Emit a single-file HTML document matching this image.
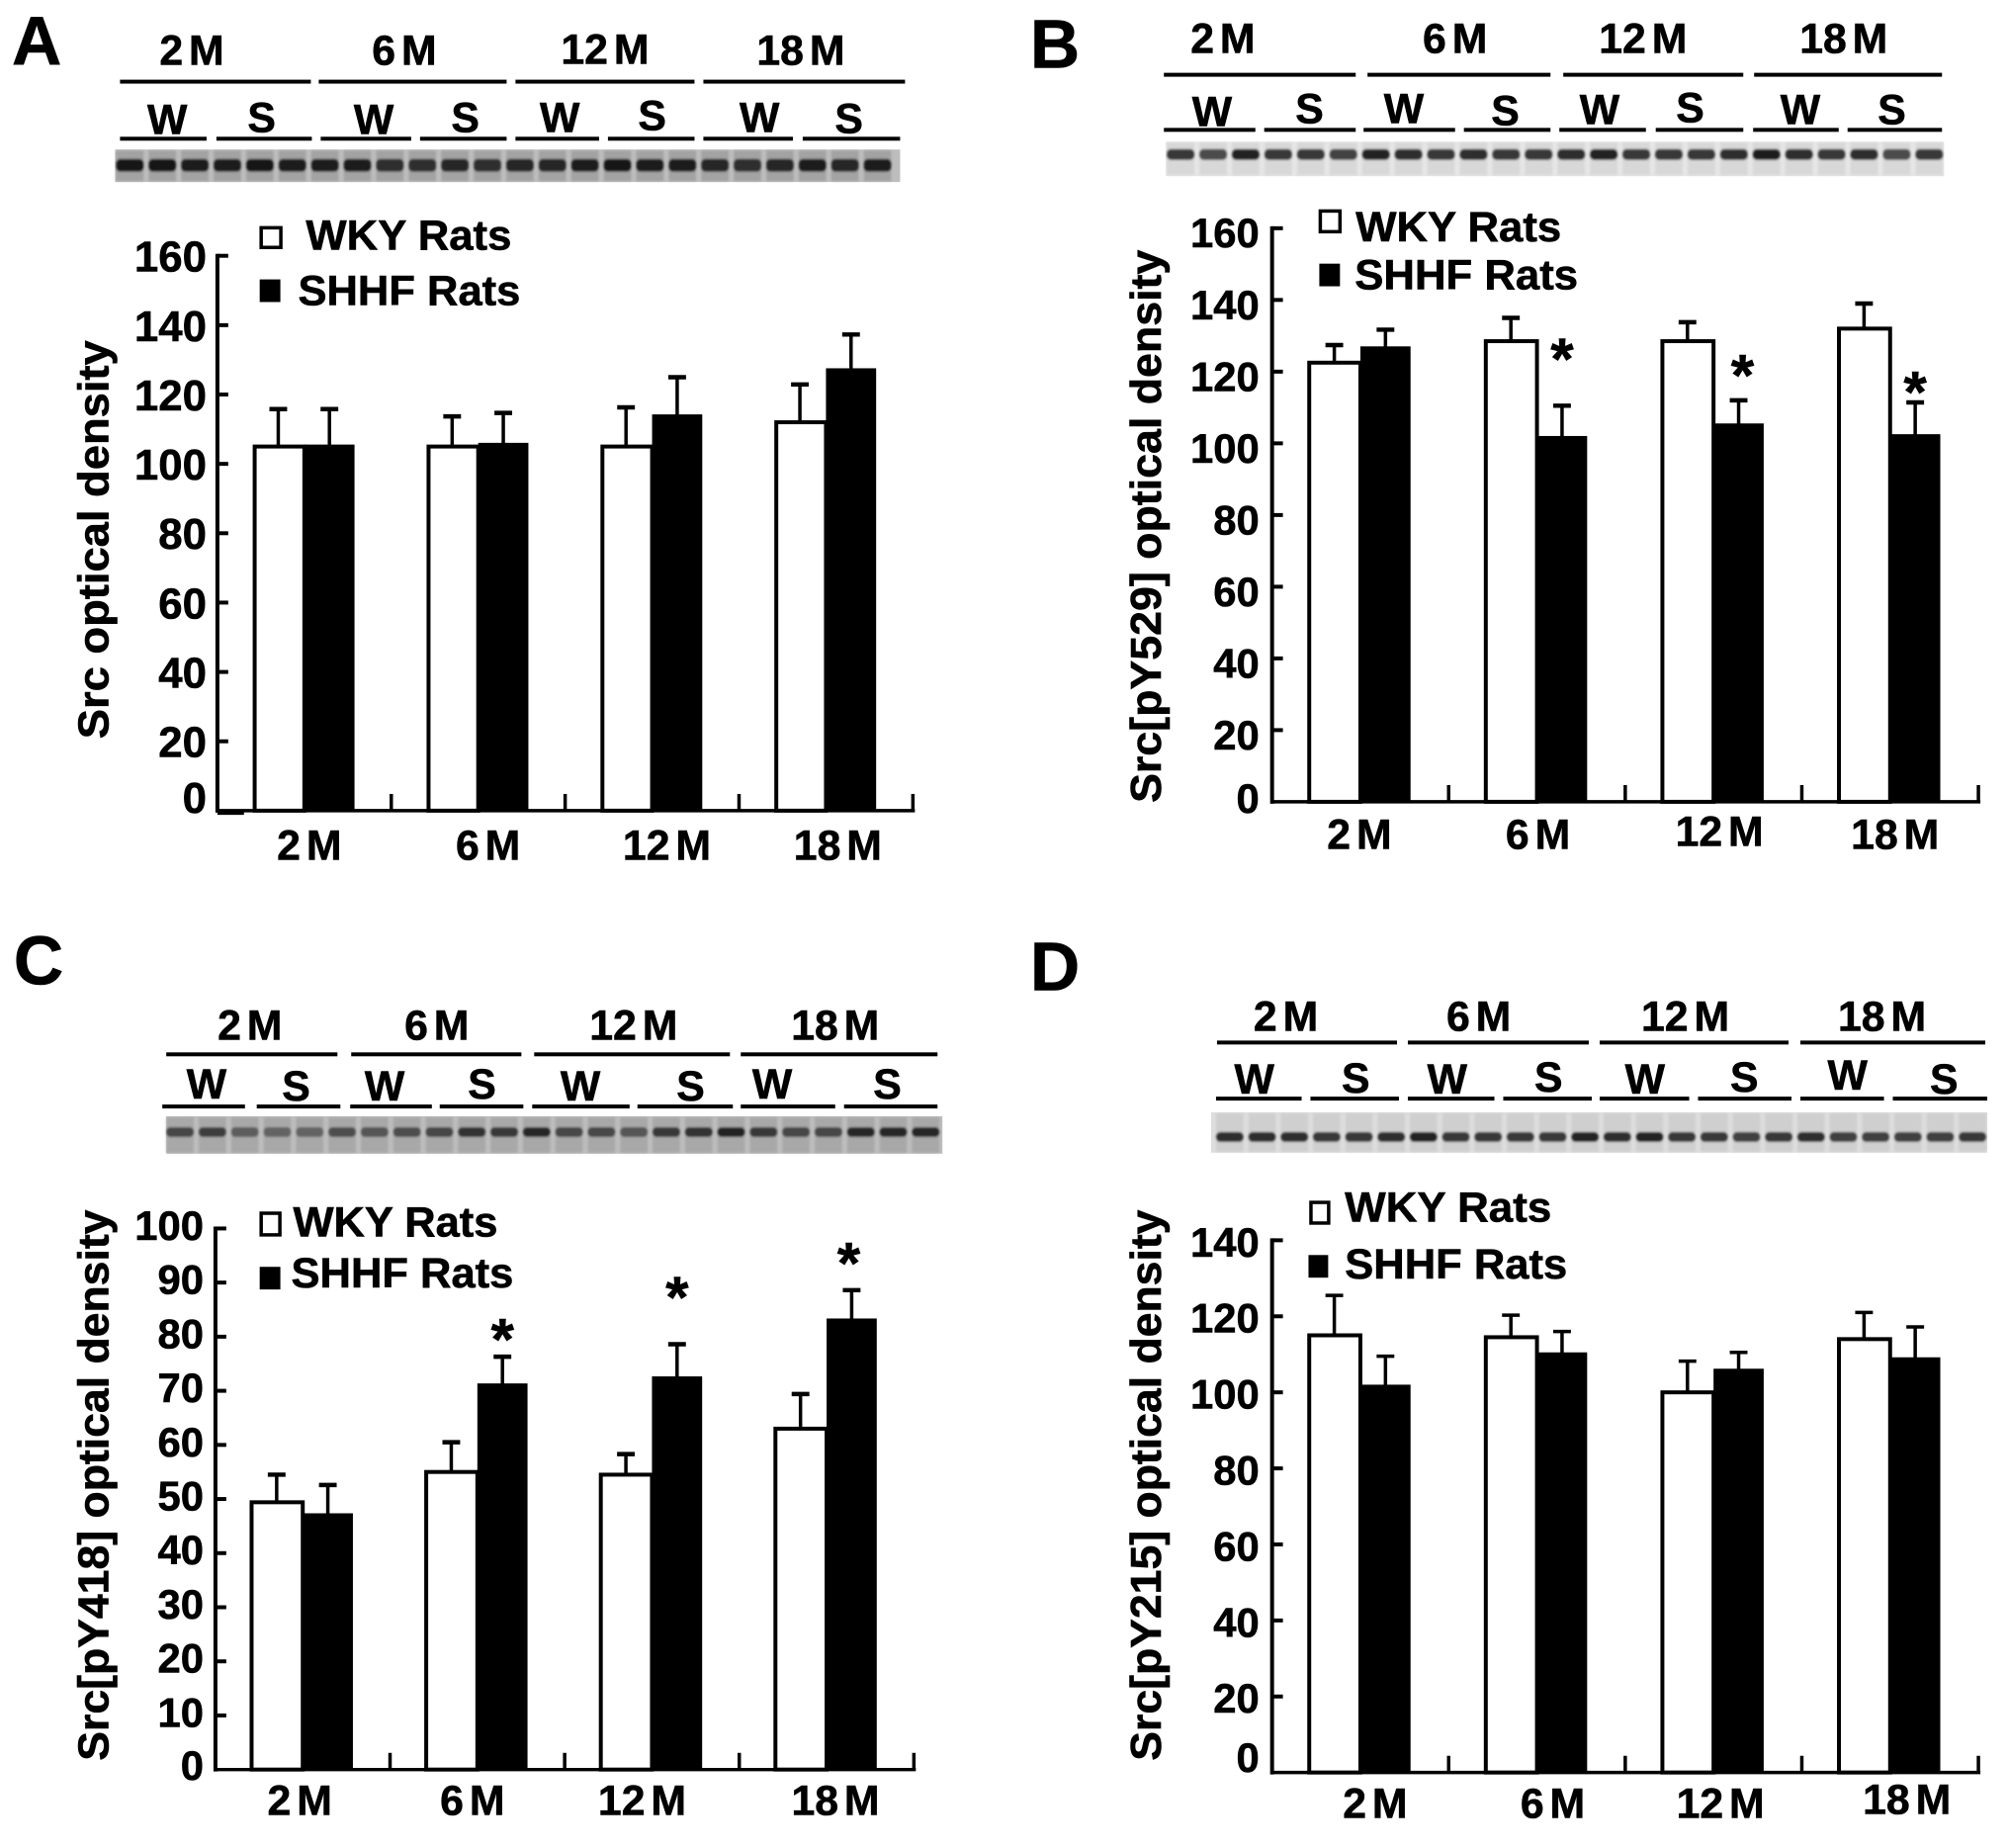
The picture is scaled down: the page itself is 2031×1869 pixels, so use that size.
<!DOCTYPE html>
<html lang="en">
<head>
<meta charset="utf-8">
<title>Src optical density in WKY and SHHF rats</title>
<style>
html,body{margin:0;padding:0;background:#fff;}
svg{display:block;}
text{font-family:"Liberation Sans",Arial,sans-serif;font-weight:bold;fill:#000;stroke:#000;stroke-width:.6px;}
.letter{font-size:70px;}
.m{font-size:43px;word-spacing:-6px;text-anchor:middle;}
.ws{font-size:43px;text-anchor:middle;}
.leg{font-size:43px;}
.ttl{font-size:44px;}
</style>
</head>
<body>
<svg id="figure" xmlns="http://www.w3.org/2000/svg" width="2031" height="1869" viewBox="0 0 2031 1869">
<defs><filter id="soft" x="-5%" y="-30%" width="110%" height="160%"><feGaussianBlur stdDeviation="1.1"/></filter></defs>
<rect width="2031" height="1869" fill="#fff"/>

<g id="quad-a" transform="scale(.995)">
<g>
<text class="letter" x="12" y="66">A</text>
<text class="m" x="195" y="66">2 M</text>
<text class="m" x="411" y="66">6 M</text>
<text class="m" x="615" y="65">12 M</text>
<text class="m" x="814" y="66">18 M</text>
<rect x="122" y="81" width="194" height="4"/>
<rect x="324" y="81" width="191" height="4"/>
<rect x="524" y="81" width="182" height="4"/>
<rect x="715" y="81" width="205" height="4"/>
<text class="ws" x="170" y="136">W</text>
<text class="ws" x="266" y="134">S</text>
<text class="ws" x="380" y="136">W</text>
<text class="ws" x="473" y="134">S</text>
<text class="ws" x="569" y="134">W</text>
<text class="ws" x="663" y="132">S</text>
<text class="ws" x="772" y="134">W</text>
<text class="ws" x="863" y="135">S</text>
<rect x="122" y="139" width="88" height="4"/>
<rect x="220" y="139" width="97" height="4"/>
<rect x="326" y="139" width="92" height="4"/>
<rect x="427" y="139" width="88" height="4"/>
<rect x="524" y="139" width="85" height="4"/>
<rect x="618" y="139" width="88" height="4"/>
<rect x="715" y="139" width="91" height="4"/>
<rect x="816" y="139" width="99" height="4"/>
</g>
<g>
<rect x="265.5" y="231.5" width="20" height="20" fill="#fff" stroke="#000" stroke-width="3.5"/>
<text class="leg" x="311" y="254" textLength="209" lengthAdjust="spacingAndGlyphs">WKY Rats</text>
<rect x="264" y="284" width="21" height="23"/>
<text class="leg" x="303" y="310" textLength="226" lengthAdjust="spacingAndGlyphs">SHHF Rats</text>
</g>
<text class="ttl" transform="translate(110,751) rotate(-90)" textLength="405" lengthAdjust="spacingAndGlyphs">Src optical density</text>
</g>

<g id="quad-b" transform="translate(1020,0) scale(.995) translate(-1020,0)">
<g>
<text class="letter" x="1042" y="69">B</text>
<text class="m" x="1238" y="54">2 M</text>
<text class="m" x="1474" y="54">6 M</text>
<text class="m" x="1665" y="54">12 M</text>
<text class="m" x="1869" y="54">18 M</text>
<rect x="1178" y="74" width="195" height="4"/>
<rect x="1385" y="74" width="186" height="4"/>
<rect x="1584" y="74" width="183" height="4"/>
<rect x="1778" y="74" width="191" height="4"/>
<text class="ws" x="1227" y="128">W</text>
<text class="ws" x="1326" y="125">S</text>
<text class="ws" x="1422" y="125">W</text>
<text class="ws" x="1525" y="127">S</text>
<text class="ws" x="1621" y="126">W</text>
<text class="ws" x="1713" y="124">S</text>
<text class="ws" x="1825" y="126">W</text>
<text class="ws" x="1918" y="126">S</text>
<rect x="1178" y="130" width="93" height="4"/>
<rect x="1280" y="130" width="93" height="4"/>
<rect x="1381" y="130" width="93" height="4"/>
<rect x="1483" y="130" width="88" height="4"/>
<rect x="1580" y="130" width="88" height="4"/>
<rect x="1678" y="130" width="89" height="4"/>
<rect x="1777" y="130" width="87" height="4"/>
<rect x="1873" y="130" width="96" height="4"/>
</g>
<g>
<rect x="1337" y="214.5" width="20" height="21" fill="#fff" stroke="#000" stroke-width="3.5"/>
<text class="leg" x="1373" y="245" textLength="209" lengthAdjust="spacingAndGlyphs">WKY Rats</text>
<rect x="1336" y="268" width="21" height="23"/>
<text class="leg" x="1372" y="294" textLength="227" lengthAdjust="spacingAndGlyphs">SHHF Rats</text>
</g>
<text class="ttl" transform="translate(1175,816) rotate(-90)" textLength="562" lengthAdjust="spacingAndGlyphs">Src[pY529] optical density</text>
</g>

<g id="quad-c" transform="translate(0,930) scale(.995) translate(0,-930)">
<g>
<text class="letter" x="14" y="996">C</text>
<text class="m" x="254" y="1052">2 M</text>
<text class="m" x="444" y="1052">6 M</text>
<text class="m" x="644" y="1052">12 M</text>
<text class="m" x="849" y="1052">18 M</text>
<rect x="169" y="1065" width="174" height="4"/>
<rect x="357" y="1065" width="173" height="4"/>
<rect x="543" y="1065" width="199" height="4"/>
<rect x="753" y="1065" width="200" height="4"/>
<text class="ws" x="210" y="1112">W</text>
<text class="ws" x="301" y="1114">S</text>
<text class="ws" x="391" y="1114">W</text>
<text class="ws" x="490" y="1112">S</text>
<text class="ws" x="590" y="1114">W</text>
<text class="ws" x="702" y="1114">S</text>
<text class="ws" x="785" y="1112">W</text>
<text class="ws" x="902" y="1112">S</text>
<rect x="165" y="1118" width="84" height="4"/>
<rect x="261" y="1118" width="85" height="4"/>
<rect x="356" y="1118" width="83" height="4"/>
<rect x="447" y="1118" width="85" height="4"/>
<rect x="541" y="1118" width="99" height="4"/>
<rect x="648" y="1118" width="97" height="4"/>
<rect x="753" y="1118" width="96" height="4"/>
<rect x="858" y="1118" width="95" height="4"/>
</g>
<g>
<rect x="265.5" y="1228.5" width="19" height="22" fill="#fff" stroke="#000" stroke-width="3.5"/>
<text class="leg" x="298" y="1252" textLength="208" lengthAdjust="spacingAndGlyphs">WKY Rats</text>
<rect x="264" y="1283" width="21" height="23"/>
<text class="leg" x="296" y="1304" textLength="226" lengthAdjust="spacingAndGlyphs">SHHF Rats</text>
</g>
<text class="ttl" transform="translate(110,1785) rotate(-90)" textLength="560" lengthAdjust="spacingAndGlyphs">Src[pY418] optical density</text>
</g>

<g id="quad-d" transform="translate(1020,930) scale(.995) translate(-1020,-930)">
<g>
<text class="letter" x="1042" y="1002">D</text>
<text class="m" x="1302" y="1043">2 M</text>
<text class="m" x="1498" y="1043">6 M</text>
<text class="m" x="1708" y="1043">12 M</text>
<text class="m" x="1908" y="1043">18 M</text>
<rect x="1232" y="1053" width="183" height="4"/>
<rect x="1426" y="1053" width="184" height="4"/>
<rect x="1621" y="1053" width="192" height="4"/>
<rect x="1825" y="1053" width="188" height="4"/>
<text class="ws" x="1270" y="1107">W</text>
<text class="ws" x="1373" y="1106">S</text>
<text class="ws" x="1466" y="1107">W</text>
<text class="ws" x="1569" y="1105">S</text>
<text class="ws" x="1667" y="1107">W</text>
<text class="ws" x="1768" y="1105">S</text>
<text class="ws" x="1873" y="1103">W</text>
<text class="ws" x="1971" y="1107">S</text>
<rect x="1231" y="1110" width="87" height="4"/>
<rect x="1327" y="1110" width="90" height="4"/>
<rect x="1426" y="1110" width="88" height="4"/>
<rect x="1523" y="1110" width="90" height="4"/>
<rect x="1621" y="1110" width="91" height="4"/>
<rect x="1721" y="1110" width="95" height="4"/>
<rect x="1825" y="1110" width="85" height="4"/>
<rect x="1919" y="1110" width="96" height="4"/>
</g>
<g>
<rect x="1327.5" y="1217.5" width="18" height="21" fill="#fff" stroke="#000" stroke-width="3.5"/>
<text class="leg" x="1362" y="1237" textLength="210" lengthAdjust="spacingAndGlyphs">WKY Rats</text>
<rect x="1325" y="1271" width="20" height="23"/>
<text class="leg" x="1362" y="1295" textLength="226" lengthAdjust="spacingAndGlyphs">SHHF Rats</text>
</g>
<text class="ttl" transform="translate(1175,1785) rotate(-90)" textLength="560" lengthAdjust="spacingAndGlyphs">Src[pY215] optical density</text>
</g>
</svg>

<script>
const categories = ['2 M', '6 M', '12 M', '18 M'];

const ticksA = [0, 20, 40, 60, 80, 100, 120, 140, 160];
const wkyA = [105, 105, 105, 112];
const shhfA = [105, 105.5, 113.7, 127];
const wkyErrA = [10.8, 8.7, 11.3, 10.9];
const shhfErrA = [10.8, 9.2, 11.3, 10.3];
const sigA = [0, 0, 0, 0];

const ticksB = [0, 20, 40, 60, 80, 100, 120, 140, 160];
const wkyB = [122.5, 128.5, 128.5, 132];
const shhfB = [126.5, 101.5, 105, 102];
const wkyErrB = [4.9, 6.5, 5.3, 7];
const shhfErrB = [5.2, 9, 7, 9.4];
const sigB = [0, 1, 1, 1];

const ticksC = [0, 10, 20, 30, 40, 50, 60, 70, 80, 90, 100];
const wkyC = [49.4, 55, 54.5, 63];
const shhfC = [47, 71, 72.3, 83];
const wkyErrC = [5.1, 5.5, 3.8, 6.4];
const shhfErrC = [5.6, 5.3, 6.3, 5.6];
const sigC = [0, 1, 1, 1];

const ticksD = [0, 20, 40, 60, 80, 100, 120, 140];
const wkyD = [115, 114.5, 100, 114];
const shhfD = [101.5, 110, 105.7, 108.7];
const wkyErrD = [10.5, 5.8, 8.2, 7];
const shhfErrD = [8, 6, 4.8, 8.5];
const sigD = [0, 0, 0, 0];

const bandStrengthA = [.95,.95,.9,.9,.95,.9,.9,.9,.8,.8,.85,.8,.85,.85,.9,.95,.9,.9,.85,.8,.85,.9,.85,.9];
const bandStrengthB = [.8,.7,.9,.8,.8,.75,.9,.85,.8,.85,.8,.8,.85,.9,.8,.8,.8,.85,.95,.85,.8,.85,.7,.8];
const bandStrengthC = [.65,.7,.5,.45,.45,.6,.55,.6,.65,.8,.75,.85,.65,.65,.55,.75,.8,.9,.75,.65,.65,.85,.85,.85];
const bandStrengthD = [.85,.85,.85,.8,.8,.85,.9,.8,.8,.8,.8,.9,.85,.9,.8,.8,.75,.8,.85,.75,.75,.75,.75,.8];

const NS = 'http://www.w3.org/2000/svg';

function mk(parent, tag, attrs, text) {
  const node = document.createElementNS(NS, tag);
  for (const key in attrs) node.setAttribute(key, attrs[key]);
  if (text !== undefined) node.textContent = text;
  parent.appendChild(node);
  return node;
}

function drawBlot(p) {
  const g = mk(document.getElementById('quad-' + p.id), 'g', {});
  
  
  const bg = mk(g, 'rect', {x: p.blot.x, y: p.blot.y, width: p.blot.w, height: p.blot.h, fill: p.blot.bg});
  
  
  const n = p.bands.length;
  const step = (p.blot.last - p.blot.first) / (n - 1);
  const bandsGroup = mk(g, 'g', {filter: 'url(#soft)'});
  p.bands.forEach(function (s, i) {
    const cx = p.blot.first + i * step;
    const lane = mk(bandsGroup, 'rect', {x: cx - step * 0.42, y: p.blot.y + 1, width: step * 0.84, height: p.blot.h - 2, fill: p.blot.lane});
    
    
    const band = mk(bandsGroup, 'rect', {x: cx - step * 0.42, y: p.blot.band - p.blot.t / 2, width: step * 0.84, height: p.blot.t, rx: 4, fill: '#111', opacity: s});
    
    
  });
}

function drawPanel(p) {
  const yScale = function (v) { return p.y0 - v / p.max * (p.y0 - p.yTop); };
  const band = (p.x1 - p.x0) / categories.length;
  const xCenter = function (i) { return p.x0 + band * (i + 0.5); };
  const g = mk(document.getElementById('quad-' + p.id), 'g', {});
  
  

  categories.forEach(function (cat, i) {
    const c = xCenter(i);
    const topW = yScale(p.wky[i]);
    const topS = yScale(p.shhf[i]);
    const xW = c - p.barW / 2 - 1;
    const xS = c + p.barW / 2;

    const errW = mk(g, 'line', {x1: xW, x2: xW, y1: topW, y2: yScale(p.wky[i] + p.wkyErr[i]), stroke: '#000', 'stroke-width': 3.5});
    
    
    const capW = mk(g, 'line', {x1: xW - 9, x2: xW + 9, y1: yScale(p.wky[i] + p.wkyErr[i]), y2: yScale(p.wky[i] + p.wkyErr[i]), stroke: '#000', 'stroke-width': p.cap});
    
    
    const errS = mk(g, 'line', {x1: xS, x2: xS, y1: topS, y2: yScale(p.shhf[i] + p.shhfErr[i]), stroke: '#000', 'stroke-width': 3.5});
    
    
    const capS = mk(g, 'line', {x1: xS - 9, x2: xS + 9, y1: yScale(p.shhf[i] + p.shhfErr[i]), y2: yScale(p.shhf[i] + p.shhfErr[i]), stroke: '#000', 'stroke-width': p.cap});
    
    

    const barW = mk(g, 'rect', {x: c - p.barW - p.whiteExtra + 2, y: topW, width: p.barW + p.whiteExtra - 2, height: p.y0 - topW, fill: '#fff', stroke: '#000', 'stroke-width': 4});
    
    
    const barS = mk(g, 'rect', {x: c, y: topS - 2, width: p.barW, height: p.y0 - topS + 2, fill: '#000'});
    
    

    if (p.sig[i]) {
      const star = mk(g, 'text', {x: xS + p.starDx[i], y: yScale(p.shhf[i] + p.shhfErr[i]) - p.starLift[i] + 33, 'text-anchor': 'middle', 'font-size': 60}, '*');
      
      
    }

    const label = mk(g, 'text', {x: c + p.xLabelDx[i], y: p.xLabelY + p.xLabelDy[i], 'class': 'm'}, cat);
    
    

    const tick = mk(g, 'line', {x1: p.x0 + band * (i + 1), x2: p.x0 + band * (i + 1), y1: p.y0, y2: p.y0 - 17, stroke: '#000', 'stroke-width': 3.5});
    
    
  });

  const yAxis = mk(g, 'line', {x1: p.x0, x2: p.x0, y1: p.yTop - 2, y2: p.y0 + 2, stroke: '#000', 'stroke-width': 4});
  
  
  const xAxis = mk(g, 'line', {x1: p.x0, x2: p.x1 + 2, y1: p.y0, y2: p.y0, stroke: '#000', 'stroke-width': 3.5});
  
  
  if (p.id === 'a') {
    const step = mk(g, 'line', {x1: p.x0, x2: p.x0 + 27, y1: p.y0 + 2.5, y2: p.y0 + 2.5, stroke: '#000', 'stroke-width': 3.5});
    
    
  }

  p.ticks.forEach(function (t) {
    const y = yScale(t);
    if (t !== 0) {
      const tick = mk(g, 'line', {x1: p.x0, x2: p.x0 + 11, y1: y, y2: y, stroke: '#000', 'stroke-width': 4});
      
      
    }
    const label = mk(g, 'text', {x: p.labelX, y: y + p.labelDy - (t === 0 ? p.zeroLift : 0), 'text-anchor': 'end', 'font-size': p.labelSize}, String(t));
    
    
  });
}

const panels = [
  {id: 'a', x0: 221, x1: 928, y0: 824, yTop: 260, max: 160, barW: 51, whiteExtra: 1.5, cap: 4.5, labelX: 210, labelDy: 16, zeroLift: 14, labelSize: 44,
   ticks: ticksA, wky: wkyA, shhf: shhfA, wkyErr: wkyErrA, shhfErr: shhfErrA, sig: sigA, starLift: [0, 0, 0, 0], starDx: [0, 0, 0, 0],
   xLabelDx: [5, 10, 15, 12], xLabelDy: [0, 0, 0, 0], xLabelY: 874, bands: bandStrengthA,
   blot: {x: 117, y: 152, w: 798, h: 33, first: 132, last: 892, band: 168, t: 13, bg: '#bdbdbd', lane: '#a3a3a3'}},
  {id: 'b', x0: 1288, x1: 2006, y0: 815, yTop: 232, max: 160, barW: 51, whiteExtra: 3, cap: 4.5, labelX: 1275, labelDy: 19.5, zeroLift: 8.5, labelSize: 42,
   ticks: ticksB, wky: wkyB, shhf: shhfB, wkyErr: wkyErrB, shhfErr: shhfErrB, sig: sigB, starLift: [0, 60, 38, 23], starDx: [0, 0, 4, 0],
   xLabelDx: [-1, 1, 6, 5], xLabelDy: [0, 0, -3, 0], xLabelY: 863, bands: bandStrengthB,
   blot: {x: 1180, y: 144, w: 791, h: 35, first: 1195, last: 1956, band: 157, t: 11, bg: '#e6e6e6', lane: '#d8d8d8'}},
  {id: 'c', x0: 219, x1: 929, y0: 1794, yTop: 1244, max: 100, barW: 51, whiteExtra: 3, cap: 4.5, labelX: 207, labelDy: 11.5, zeroLift: 1, labelSize: 42,
   ticks: ticksC, wky: wkyC, shhf: shhfC, wkyErr: wkyErrC, shhfErr: shhfErrC, sig: sigC, starLift: [0, 30, 60, 40], starDx: [0, 0, 0, -3],
   xLabelDx: [-3, -5, -10, 9], xLabelDy: [0, 0, 0, 0], xLabelY: 1840, bands: bandStrengthC,
   blot: {x: 169, y: 1130, w: 789, h: 38, first: 183, last: 941, band: 1146, t: 10, bg: '#bdbdbd', lane: '#a8a8a8'}},
  {id: 'd', x0: 1288, x1: 2006, y0: 1797, yTop: 1256, max: 140, barW: 51, whiteExtra: 3, cap: 3.5, labelX: 1275, labelDy: 16.5, zeroLift: 17, labelSize: 42,
   ticks: ticksD, wky: wkyD, shhf: shhfD, wkyErr: wkyErrD, shhfErr: shhfErrD, sig: sigD, starLift: [0, 0, 0, 0], starDx: [0, 0, 0, 0],
   xLabelDx: [15, 16, 7, 17], xLabelDy: [0, 0, 0, -4], xLabelY: 1843, bands: bandStrengthD,
   blot: {x: 1226, y: 1126, w: 789, h: 41, first: 1245, last: 2000, band: 1151, t: 10, bg: '#dddddd', lane: '#cfcfcf'}}
];

panels.forEach(drawBlot);
panels.forEach(drawPanel);
</script>
</body>
</html>
